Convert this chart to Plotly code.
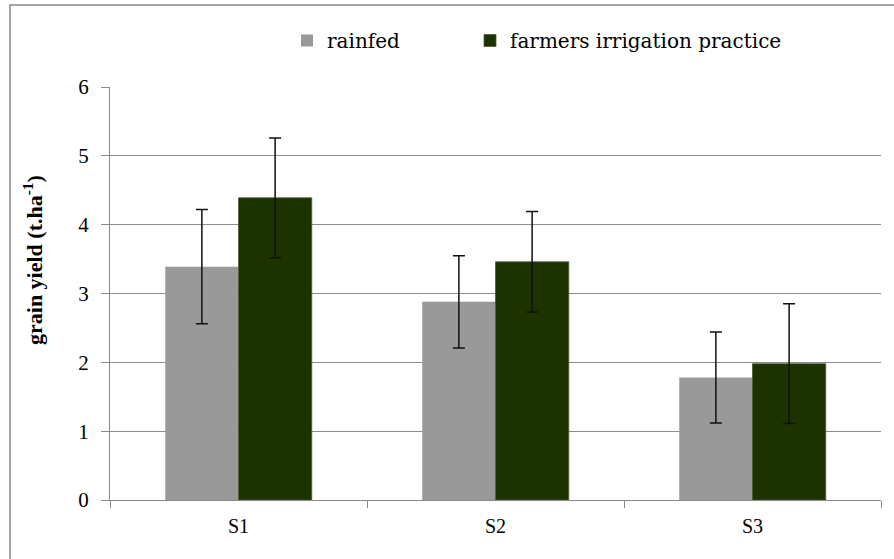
import plotly.graph_objects as go

categories = ["S1", "S2", "S3"]
rainfed = [3.39, 2.88, 1.78]
rainfed_err = [0.83, 0.67, 0.66]
irrigated = [4.39, 3.46, 1.98]
irrigated_err = [0.87, 0.73, 0.87]
series_names = ["rainfed", "farmers irrigation practice"]
y_title = "<b>grain yield (t.ha<sup>-1</sup>)</b>"

W, H = 894, 559
L, R, T, B = 110, 13, 87, 59
pw, ph = W - L - R, H - T - B

font = "Liberation Serif"
legfont = "DejaVu Serif"

fig = go.Figure()
fig.add_trace(go.Bar(
    x=categories, y=rainfed, name=series_names[0], legend="legend",
    marker=dict(color="#999999", line=dict(width=0)),
    error_y=dict(type="data", array=rainfed_err, color="#111111", thickness=1.5, width=6),
))
fig.add_trace(go.Bar(
    x=categories, y=irrigated, name=series_names[1], legend="legend2",
    marker=dict(color="#1c3300", line=dict(color="#4a5a30", width=0.8)),
    error_y=dict(type="data", array=irrigated_err, color="#111111", thickness=1.5, width=6),
))

leg_common = dict(orientation="h", xref="container", yref="container", xanchor="left",
                  yanchor="middle", bgcolor="rgba(0,0,0,0)", borderwidth=0,
                  font=dict(size=20, family=legfont, color="black"))

fig.update_layout(
    template="none",
    width=W, height=H,
    margin=dict(l=L, r=R, t=T, b=B),
    paper_bgcolor="white", plot_bgcolor="white",
    barmode="group", bargap=0.43, bargroupgap=0,
    font=dict(family=font, size=20, color="black"),
    showlegend=True,
    legend=dict(x=287 / W, y=1 - 40.5 / H, **leg_common),
    legend2=dict(x=470 / W, y=1 - 40.5 / H, **leg_common),
    xaxis=dict(showline=True, linecolor="#888888", linewidth=1, ticks="outside",
               tickson="boundaries", ticklen=7, tickcolor="#888888", showgrid=False,
               tickfont=dict(size=20, family=font, color="black"), ticklabelstandoff=8,
               fixedrange=True),
    yaxis=dict(range=[0, 6], dtick=1, showline=True, linecolor="#888888", linewidth=1,
               ticks="outside", ticklen=8, tickcolor="#888888", showgrid=True,
               gridcolor="#8c8c8c", gridwidth=1, zeroline=False,
               tickfont=dict(size=21, family=font, color="black"), ticklabelstandoff=8,
               fixedrange=True),
    annotations=[dict(text=y_title, textangle=-90, xref="paper", yref="paper",
                      x=(33 - L) / pw, y=(H - B - 260) / ph, showarrow=False,
                      font=dict(size=22, family=font, color="black"),
                      xanchor="center", yanchor="middle")],
    shapes=[dict(type="rect", xref="paper", yref="paper",
                 x0=(10 - L) / pw, x1=1.2, y0=-0.5, y1=(H - B - 5) / ph,
                 line=dict(color="#888888", width=1.5), fillcolor="rgba(0,0,0,0)", layer="below")],
)

fig.write_html("out.html", config={"displayModeBar": False},
               post_script="document.body.style.margin='0';")
